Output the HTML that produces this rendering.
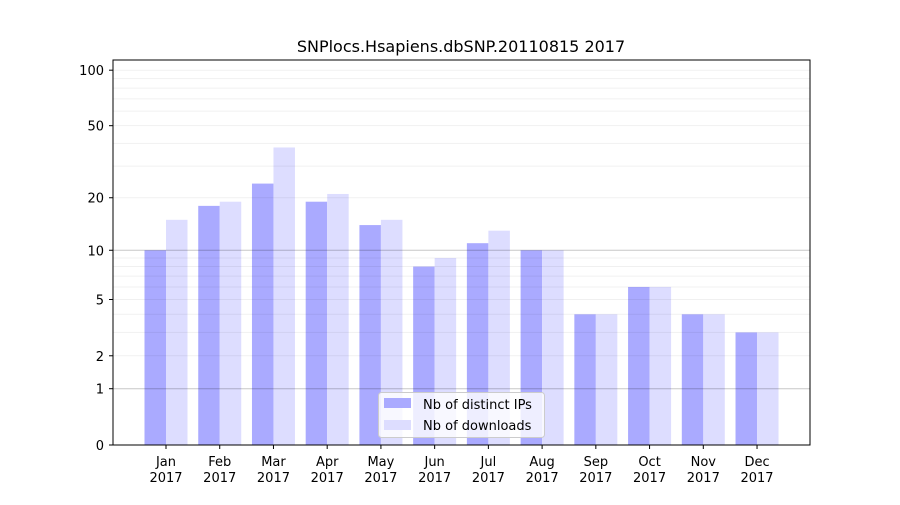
<!DOCTYPE html>
<html><head><meta charset="utf-8"><style>
body{margin:0;background:#fff;}
svg{font-family:"DejaVu Sans","Liberation Sans",sans-serif;}
</style></head><body>
<svg id="chart" width="900" height="500">
<text x="461" y="52" text-anchor="middle" font-size="16">SNPlocs.Hsapiens.dbSNP.20110815 2017</text>
<g id="bars"></g><g id="grid"></g><g id="axes"></g>
<rect x="113" y="60" width="697" height="385" fill="none" stroke="#000" stroke-width="1"/>
<g>
<rect x="378.5" y="392.5" width="166" height="45" rx="3" fill="#fff" fill-opacity="0.8" stroke="#ccc"/>
<rect x="384" y="398" width="27" height="10" fill="#aaaaff"/>
<text x="423" y="409" font-size="13">Nb of distinct IPs</text>
<rect x="384" y="420" width="27" height="10" fill="#ddddff"/>
<text x="423" y="430" font-size="13">Nb of downloads</text>
</g>
</svg>
<script>
const months=["Jan","Feb","Mar","Apr","May","Jun","Jul","Aug","Sep","Oct","Nov","Dec"];
const ips=[10,18,24,19,14,8,11,10,4,6,4,3];
const downloads=[15,19,38,21,15,9,13,10,4,6,4,3];
const yTicks=[0,1,2,5,10,20,50,100];
const NS="http://www.w3.org/2000/svg";
const y=v=>445-187*Math.log10(v+1);
const x=i=>166+i*53.73;
function mk(t,a,p){const e=document.createElementNS(NS,t);for(const k in a)e.setAttribute(k,a[k]);p.appendChild(e);return e;}
const grid=document.getElementById('grid'),bars=document.getElementById('bars'),axes=document.getElementById('axes');
const minor=[2,3,4,5,6,7,8,9,20,30,40,50,60,70,80,90,100];
minor.forEach(v=>{const l=mk('line',{x1:113,x2:810,y1:y(v),y2:y(v),stroke:'#000','stroke-opacity':0.06,'stroke-width':1},grid);

});
[1,10].forEach(v=>{const l=mk('line',{x1:113,x2:810,y1:y(v),y2:y(v),stroke:'#000','stroke-opacity':0.22,'stroke-width':1},grid);

});
months.forEach((m,i)=>{
const a=mk('rect',{x:x(i)-21.5,y:y(ips[i]),width:21.5,height:445-y(ips[i]),fill:'#aaaaff'},bars);


const b=mk('rect',{x:x(i),y:y(downloads[i]),width:21.5,height:445-y(downloads[i]),fill:'#ddddff'},bars);


mk('line',{x1:x(i),x2:x(i),y1:445,y2:449,stroke:'#000'},axes);
const t=mk('text',{x:x(i),y:466,'text-anchor':'middle','font-size':13},axes);


t.innerHTML='<tspan x="'+x(i)+'">'+m+'</tspan><tspan x="'+x(i)+'" dy="16">2017</tspan>';
});
yTicks.forEach(v=>{
mk('line',{x1:109,x2:113,y1:y(v),y2:y(v),stroke:'#000'},axes);
const t=mk('text',{x:104,y:y(v)+5,'text-anchor':'end','font-size':13},axes);


t.textContent=v;
});
</script>
</body></html>
